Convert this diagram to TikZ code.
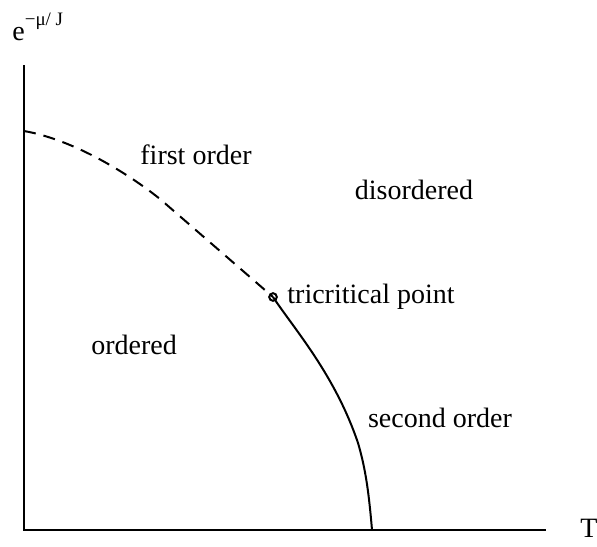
\documentclass[tikz,border=0pt]{standalone}
\usepackage{fontspec}
\setmainfont{Liberation Serif}
\usepackage{tikz}

\begin{document}
\begin{tikzpicture}[x=0.5pt,y=-0.5pt,every node/.style={font=\fontsize{14}{16}\selectfont},
  phase/.style={line width=1pt},
  firstline/.style={line width=1pt,dash pattern=on 6pt off 4pt}]
  \useasboundingbox (0,0) rectangle (597,546);
  % axes
  \coordinate (origin) at (24,530);
  \coordinate (ytop) at (24,65);
  \coordinate (xend) at (546,530);
  \draw[phase] (ytop) -- (origin) -- (xend);
  \node[anchor=base west,inner sep=0pt] (ylab) at (12,40)
    {e\raisebox{7.5pt}{\fontsize{9.5}{11}\selectfont −μ/ J}};
  \node[anchor=base west,inner sep=0pt] (xlab) at (580,537) {T};

  % first order (dashed) and second order (solid) lines
  \coordinate (tcp) at (273,297);
  \draw[firstline] (24,131) .. controls (75,140) and (130,175) .. (160,199) -- (tcp);
  \draw[phase] (tcp) .. controls (295,330) and (335,375) .. (358,443)
    .. controls (366,470) and (369,495) .. (372,530);
  \draw[line width=1pt] (tcp) circle (3.8);

  % labels
  \node (first) at (196,155) {first order};
  \node (disord) at (414,190) {disordered};
  \node[anchor=west,inner sep=0pt] (tcplab) at (287,297) {tricritical point};
  \node (ord) at (134,345) {ordered};
  \node (second) at (440,418) {second order};
\end{tikzpicture}
\end{document}
